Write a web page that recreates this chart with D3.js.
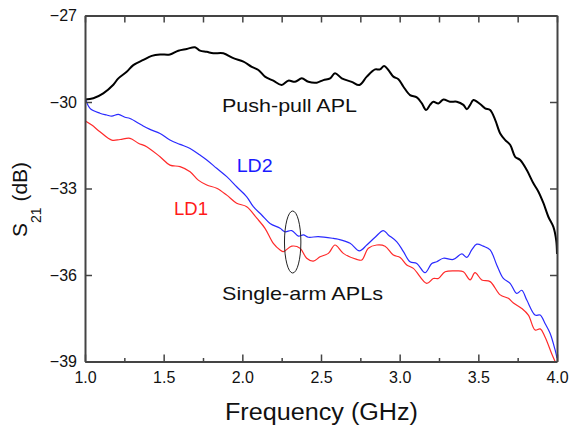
<!DOCTYPE html>
<html><head><meta charset="utf-8">
<script src="https://cdn.jsdelivr.net/npm/d3@7"></script>
<style>
body{margin:0;background:#fff;}
text{font-family:"Liberation Sans",Arial,sans-serif;fill:#111;}
</style></head>
<body><svg id="c" width="569" height="427"></svg>
<script>
const xTicks = [1.0,1.5,2.0,2.5,3.0,3.5,4.0];
const xMinor = [1.25,1.75,2.25,2.75,3.25,3.75];
const yTicks = [-27,-30,-33,-36,-39];

const pushF = [1.000,1.053,1.116,1.180,1.212,1.265,1.307,1.371,1.424,1.477,1.540,1.593,1.647,1.699,1.731,1.774,1.816,1.879,1.943,2.007,2.060,2.102,2.144,2.197,2.250,2.292,2.335,2.378,2.420,2.473,2.515,2.558,2.589,2.632,2.695,2.744,2.791,2.844,2.875,2.901,2.928,2.960,2.992,3.024,3.066,3.109,3.141,3.168,3.193,3.214,3.246,3.278,3.320,3.363,3.405,3.427,3.448,3.469,3.511,3.543,3.575,3.607,3.639,3.671,3.703,3.734,3.766,3.808,3.850,3.882,3.914,3.945,3.977,3.995,4.000];
const pushDb = [-29.91,-29.87,-29.70,-29.40,-29.18,-28.95,-28.72,-28.54,-28.40,-28.35,-28.35,-28.22,-28.16,-28.10,-28.22,-28.26,-28.31,-28.31,-28.48,-28.60,-28.78,-28.89,-29.12,-29.26,-29.41,-29.26,-29.30,-29.18,-29.30,-29.33,-29.24,-29.18,-29.00,-29.18,-29.30,-29.41,-29.12,-28.87,-28.87,-28.75,-28.89,-29.12,-29.21,-29.47,-29.76,-29.84,-30.05,-30.28,-30.10,-29.99,-30.05,-29.91,-29.99,-29.99,-30.10,-30.25,-30.10,-29.93,-30.07,-30.22,-30.28,-30.62,-31.09,-31.32,-31.49,-31.90,-32.01,-32.36,-32.82,-33.11,-33.51,-33.98,-34.33,-34.80,-35.27];

const ld2F = [1.000,1.032,1.095,1.138,1.170,1.212,1.254,1.286,1.360,1.413,1.477,1.540,1.604,1.668,1.731,1.774,1.837,1.901,1.964,2.028,2.070,2.123,2.176,2.240,2.271,2.314,2.356,2.388,2.420,2.483,2.579,2.610,2.685,2.744,2.791,2.844,2.896,2.928,2.982,3.024,3.066,3.109,3.161,3.204,3.236,3.278,3.341,3.395,3.427,3.458,3.490,3.532,3.575,3.617,3.659,3.702,3.744,3.776,3.808,3.861,3.893,3.924,3.956,3.988,4.000];
const ld2Db = [-29.82,-30.22,-30.39,-30.45,-30.49,-30.43,-30.53,-30.57,-30.80,-30.95,-31.09,-31.32,-31.47,-31.61,-31.84,-32.01,-32.30,-32.59,-32.94,-33.29,-33.63,-33.92,-34.21,-34.38,-34.50,-34.46,-34.65,-34.61,-34.69,-34.67,-34.73,-34.76,-34.90,-35.16,-34.96,-34.69,-34.46,-34.61,-34.85,-35.19,-35.54,-35.60,-35.92,-35.60,-35.54,-35.42,-35.46,-35.27,-35.39,-35.13,-34.93,-35.00,-35.13,-35.65,-36.12,-36.29,-36.64,-36.53,-36.87,-37.39,-37.39,-37.68,-38.02,-38.60,-38.88];

const ld1F = [1.000,1.043,1.095,1.170,1.223,1.286,1.339,1.392,1.477,1.540,1.604,1.668,1.720,1.774,1.837,1.901,1.964,2.028,2.092,2.144,2.197,2.240,2.261,2.314,2.367,2.409,2.451,2.494,2.547,2.589,2.642,2.727,2.759,2.801,2.854,2.907,2.960,3.003,3.045,3.087,3.172,3.214,3.246,3.289,3.363,3.405,3.448,3.479,3.522,3.575,3.639,3.691,3.723,3.776,3.818,3.861,3.893,3.924,3.967,3.988];
const ld1Db = [-30.65,-30.80,-31.03,-31.32,-31.30,-31.26,-31.43,-31.55,-31.90,-32.19,-32.24,-32.42,-32.71,-32.88,-32.99,-33.23,-33.51,-33.63,-34.03,-34.38,-34.90,-35.13,-35.19,-35.00,-35.07,-35.42,-35.52,-35.37,-35.25,-34.96,-35.25,-35.46,-35.48,-35.07,-34.96,-35.00,-35.31,-35.39,-35.65,-35.77,-36.29,-36.12,-36.12,-35.89,-35.86,-35.89,-36.17,-35.92,-36.17,-36.23,-36.69,-36.81,-36.97,-37.16,-37.39,-37.91,-37.87,-38.15,-38.74,-39.00];

const svg = d3.select('#c');
const L=85, R=557, T=15.5, B=361.5;
const x = d3.scaleLinear().domain([1,4]).range([L,R]);
const y = d3.scaleLinear().domain([-39,-27]).range([B,T]);

svg.append('clipPath').attr('id','clip').append('rect')
  .attr('x',L).attr('y',T-2).attr('width',R-L+1).attr('height',B-T+2);

const line = d3.line().x(d=>x(d[0])).y(d=>y(d[1])).curve(d3.curveCatmullRom.alpha(0.5));
const zip=(a,b)=>a.map((v,i)=>[v,b[i]]);
const g = svg.append('g').attr('clip-path','url(#clip)');
g.append('path').datum(zip(ld1F,ld1Db)).attr('d',line).attr('fill','none').attr('stroke','#ff2a2a').attr('stroke-width',1.2);
g.append('path').datum(zip(ld2F,ld2Db)).attr('d',line).attr('fill','none').attr('stroke','#2a2aff').attr('stroke-width',1.2);
g.append('path').datum(zip(pushF,pushDb)).attr('d',line).attr('fill','none').attr('stroke','#000').attr('stroke-width',2);

const axCol='#444';
function style(sel){
  sel.select('.domain').attr('stroke',axCol).attr('stroke-width',2);
  sel.selectAll('.tick line').attr('stroke',axCol).attr('stroke-width',1.5);
  sel.selectAll('text').attr('font-size',16).attr('fill','#111').attr('font-family','"Liberation Sans",Arial,sans-serif');
}
svg.append('g').attr('transform',`translate(0,${B})`)
  .call(d3.axisBottom(x).tickValues(xMinor).tickSize(-3.5).tickFormat(''))
  .call(style).select('.domain').remove();
svg.append('g').attr('transform',`translate(0,${T})`)
  .call(d3.axisTop(x).tickValues(xTicks.concat(xMinor)).tickSizeInner(-7).tickSizeOuter(0).tickFormat(''))
  .call(style);
svg.append('g').attr('transform',`translate(${R},0)`)
  .call(d3.axisRight(y).tickValues(yTicks).tickSizeInner(-7).tickSizeOuter(0).tickFormat(''))
  .call(style);
svg.append('g').attr('transform',`translate(0,${B})`)
  .call(d3.axisBottom(x).tickValues(xTicks).tickSizeInner(-7).tickSizeOuter(0).tickPadding(10).tickFormat(d3.format('.1f')))
  .call(style);
svg.append('g').attr('transform',`translate(${L},0)`)
  .call(d3.axisLeft(y).tickValues(yTicks).tickSizeInner(-7).tickSizeOuter(0).tickPadding(8).tickFormat(d3.format('d')))
  .call(style);

// annotations
svg.append('text').attr('x',321.5).attr('y',420).attr('text-anchor','middle').attr('font-size',23)
  .attr('textLength',193).attr('lengthAdjust','spacingAndGlyphs').text('Frequency (GHz)');
const yt = svg.append('text').attr('transform','translate(26.5,237) rotate(-90)').attr('font-size',21);
yt.append('tspan').text('S');
yt.append('tspan').attr('font-size',14).attr('dy',14).text('21');
yt.append('tspan').attr('dy',-14).text(' (dB)');

svg.append('text').attr('x',222).attr('y',111.7).attr('font-size',19).attr('textLength',135).attr('lengthAdjust','spacingAndGlyphs').text('Push-pull APL');
svg.append('text').attr('x',222).attr('y',300).attr('font-size',19).attr('textLength',161).attr('lengthAdjust','spacingAndGlyphs').text('Single-arm APLs');
svg.append('text').attr('x',236.7).attr('y',171.7).attr('font-size',19).attr('fill','#1a1aff').style('fill','#1a1aff').attr('textLength',36).attr('lengthAdjust','spacingAndGlyphs').text('LD2');
svg.append('text').attr('x',174).attr('y',215).attr('font-size',19).style('fill','#ff1a1a').attr('textLength',34).attr('lengthAdjust','spacingAndGlyphs').text('LD1');
svg.append('ellipse').attr('cx',x(2.32)).attr('cy',242).attr('rx',8.2).attr('ry',31).attr('fill','none').attr('stroke','#222').attr('stroke-width',1);
</script></body></html>
